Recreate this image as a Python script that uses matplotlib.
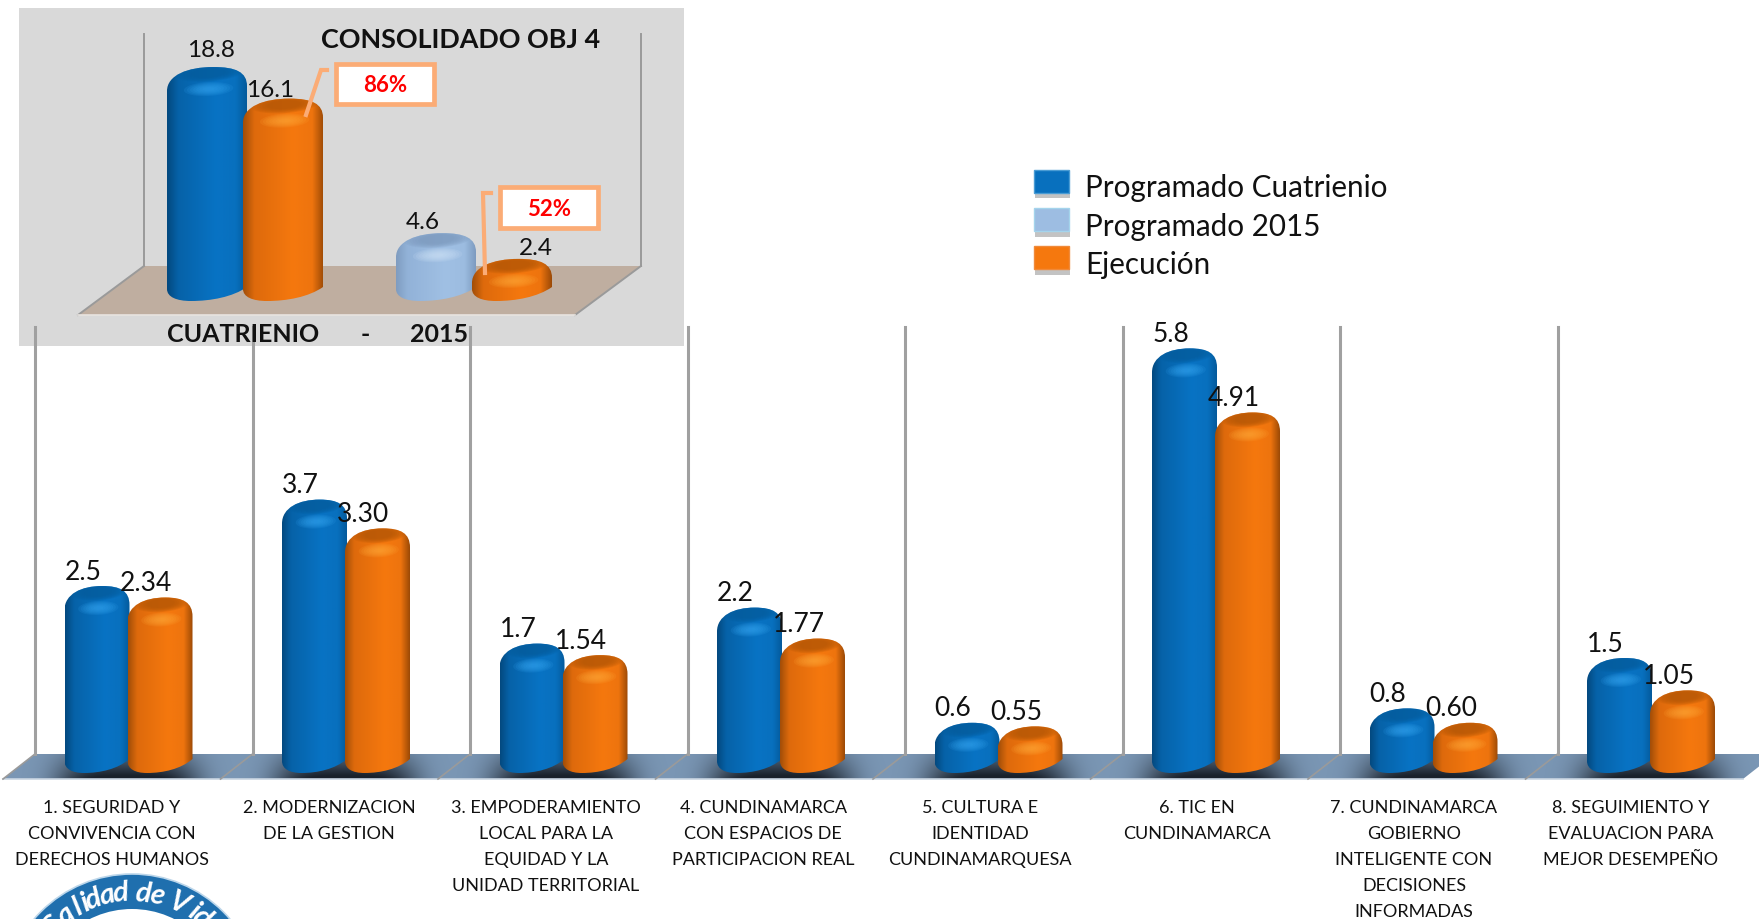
import numpy as np
import matplotlib
matplotlib.use("Agg")
import matplotlib.pyplot as plt
import matplotlib.patheffects as pe
from matplotlib.colors import LinearSegmentedColormap
from matplotlib.legend_handler import HandlerPatch
from matplotlib.patches import Circle, Patch, PathPatch, Polygon, Rectangle
from matplotlib.path import Path

plt.rcParams['font.family'] = ['Lato', 'DejaVu Sans']

# datos
objetivos = ["1. SEGURIDAD Y\nCONVIVENCIA CON\nDERECHOS HUMANOS",
             "2. MODERNIZACION\nDE LA GESTION",
             "3. EMPODERAMIENTO\nLOCAL PARA LA\nEQUIDAD Y LA\nUNIDAD TERRITORIAL",
             "4. CUNDINAMARCA\nCON ESPACIOS DE\nPARTICIPACION REAL",
             "5. CULTURA E\nIDENTIDAD\nCUNDINAMARQUESA",
             "6. TIC EN\nCUNDINAMARCA",
             "7. CUNDINAMARCA\nGOBIERNO\nINTELIGENTE CON\nDECISIONES\nINFORMADAS",
             "8. SEGUIMIENTO Y\nEVALUACION PARA\nMEJOR DESEMPEÑO"]
programado = [2.5, 3.7, 1.7, 2.2, 0.6, 5.8, 0.8, 1.5]
ejecucion = [2.34, 3.30, 1.54, 1.77, 0.55, 4.91, 0.60, 1.05]

consolidado_prog = [18.8, 4.6]
consolidado_ejec = [16.1, 2.4]
consolidado_pct = ["86%", "52%"]

# colores
AZUL = ["#03497f", "#0662a8", "#0873c4", "#0870be", "#045a9c"]
AZUL_TAPA, AZUL_LUZ = "#045c9c", "#35a4f0"
CLARO = ["#7f9cc0", "#92b2d8", "#a0c0e4", "#9cbce0", "#7d9bc0"]
CLARO_TAPA, CLARO_LUZ = "#7c99bd", "#d0e4f8"
NARANJA = ["#a24e08", "#de6a0c", "#f5780e", "#ee740e", "#9c4a06"]
NARANJA_TAPA, NARANJA_LUZ = "#b25606", "#ffa838"
BORDE = "#fbac76"


class Panel:
    # pasa pixeles de la imagen a datos de cada eje
    def __init__(self, ax, x0, y0, sx, sy):
        self.ax, self.x0, self.y0, self.sx, self.sy = ax, x0, y0, sx, sy

    def d(self, px, py):
        return (px - self.x0) / self.sx, (self.y0 - py) / self.sy


def elipse(panel, cx, cy, w, h, ang, **kw):
    t = np.linspace(0, 2 * np.pi, 40)
    a = np.radians(ang)
    ex = w / 2 * np.cos(t)
    ey = h / 2 * np.sin(t)
    px = cx + ex * np.cos(a) - ey * np.sin(a)
    py = cy + ex * np.sin(a) + ey * np.cos(a)
    xs, ys = panel.d(px, py)
    return panel.ax.add_patch(Polygon(np.c_[xs, ys], closed=True, lw=0, **kw))


def cilindro(panel, x, valor, ancho, base, colores, tapa, luz, z):
    ax = panel.ax
    W = ancho * panel.sx
    xc = x * panel.sx + panel.x0
    L = xc - W / 2
    T = panel.y0 - valor * panel.sy
    B = panel.y0 + base

    def p(fx, py):
        return panel.d(L + fx * W, py)

    verts = [p(0, T + 24), p(0, T + 8), p(.26, T), p(.58, T),
             p(.86, T), p(1, T + 5), p(1, T + 19),
             p(1, B - 13), p(.82, B - 3), p(.55, B + 1), p(.3, B + 1),
             p(.12, B + 1), p(0, B - 3), p(0, B - 11), p(0, T + 24)]
    codes = [Path.MOVETO] + [Path.CURVE4] * 6 + [Path.LINETO] + [Path.CURVE4] * 6 + [Path.CLOSEPOLY]
    cuerpo = PathPatch(Path(verts, codes), fc="none", lw=0, zorder=z)
    ax.add_patch(cuerpo)

    cmap = LinearSegmentedColormap.from_list("c", list(zip([0, .14, .62, .86, 1], colores)))
    x1, y1 = p(0, T)
    x2, y2 = p(1, B + 2)
    im = ax.imshow(np.linspace(0, 1, 128).reshape(1, -1), cmap=cmap, aspect="auto",
                   extent=(x1, x2, y2, y1), zorder=z, interpolation="bilinear")
    im.set_clip_path(cuerpo)

    # tapa y brillo
    cx = L + .52 * W
    for k in np.linspace(1, .5, 7):
        e = elipse(panel, cx, T + 6, W * .84 * k, 17 * k, -4, fc=tapa, alpha=.2, zorder=z + .1)
        e.set_clip_path(cuerpo)
    for k in np.linspace(1, .25, 7):
        e = elipse(panel, cx, T + 22, W * .62 * k, 14 * k, -3, fc=luz, alpha=.14, zorder=z + .2)
        e.set_clip_path(cuerpo)


fig = plt.figure(figsize=(17.59, 9.20), dpi=100, facecolor="white")

# grafico consolidado
ax2 = fig.add_axes([19 / 1759, 1 - 347 / 920, 665 / 1759, 338 / 920], zorder=1)
ax2.set_facecolor("#d9d9d9")
for s in ax2.spines.values():
    s.set_visible(False)
ax2.set_xticks([])
ax2.set_yticks([])
x0b, y0b, sxb, syb = 245, 288, 229, 11.7
lim2x = ((19 - x0b) / sxb, (684 - x0b) / sxb)
lim2y = ((y0b - 347) / syb, (y0b - 9) / syb)
pb = Panel(ax2, x0b, y0b, sxb, syb)

suelo = [pb.d(144, 267), pb.d(641, 267), pb.d(575, 316), pb.d(78, 316)]
ax2.add_patch(Polygon(suelo, closed=True, fc="#bfaea0", ec="none", zorder=1))
for a, b in [((144, 35), (144, 267)), ((144, 267), (78, 316)),
             ((641, 35), (641, 267)), ((641, 267), (575, 316))]:
    xa, ya = pb.d(*a)
    xc_, yc_ = pb.d(*b)
    ax2.plot([xa, xc_], [ya, yc_], color="#9a9a9a", lw=1.4, zorder=1.5)
xa, ya = pb.d(78, 316)
xc_, yc_ = pb.d(575, 316)
ax2.plot([xa, xc_], [ya, yc_], color="#e8e4e0", lw=1.2, zorder=1.5)

anchob = 80 / sxb
sep = 38 / sxb
estilo_prog = [(AZUL, AZUL_TAPA, AZUL_LUZ), (CLARO, CLARO_TAPA, CLARO_LUZ)]
off_prog = [(4, 18), (-13, 12)]
off_ejec = [(-13, 9), (24, 11)]
for i in range(2):
    col, tapa, luz = estilo_prog[i]
    cilindro(pb, i - sep, consolidado_prog[i], anchob, 13, col, tapa, luz, 3)
    cilindro(pb, i + sep, consolidado_ejec[i], anchob, 13, NARANJA, NARANJA_TAPA, NARANJA_LUZ, 4)
    ax2.annotate(f"{consolidado_prog[i]:.1f}", (i - sep, consolidado_prog[i]), xytext=off_prog[i],
                 textcoords="offset pixels", ha="center", va="center", fontsize=17.6, color="#111111", zorder=6)
    ax2.annotate(f"{consolidado_ejec[i]:.1f}", (i + sep, consolidado_ejec[i]), xytext=off_ejec[i],
                 textcoords="offset pixels", ha="center", va="center", fontsize=17.6, color="#111111", zorder=6)
ax2.set_xlim(*lim2x)
ax2.set_ylim(*lim2y)

# grafico principal
ax = fig.add_axes([0, 0, 1, 1], zorder=2)
ax.set_axis_off()
x0m, y0m, sxm, sym = 127, 767, 217.5, 72
pm = Panel(ax, x0m, y0m, sxm, sym)
limx = ((0 - x0m) / sxm, (1759 - x0m) / sxm)
limy = ((y0m - 920) / sym, y0m / sym)

# sombra del piso
yy, xx = np.mgrid[0:1:40j, 0:1:120j]
sombra = np.zeros((40, 120, 4))
sombra[..., 0] = 0.10
sombra[..., 1] = 0.13
sombra[..., 2] = 0.17
sombra[..., 3] = np.clip(np.exp(-((xx - .5) / .28) ** 4) * (0.35 + 0.75 * yy), 0, 1)

n = len(objetivos)
for i in range(n):
    dx = i * sxm
    pts = [pm.d(3 + dx, 780), pm.d(35 + dx, 755), pm.d(252.5 + dx, 755), pm.d(220.5 + dx, 780)]
    piso = Polygon(pts, closed=True, fc="#7a96b4", ec="none", zorder=1)
    ax.add_patch(piso)
    x1, y1 = pm.d(3 + dx, 755)
    x2, y2 = pm.d(252.5 + dx, 780)
    im = ax.imshow(sombra, aspect="auto", extent=(x1, x2, y2, y1), zorder=1.1, interpolation="bilinear")
    im.set_clip_path(piso)
    xa, ya = pm.d(3 + dx, 780)
    xb, yb = pm.d(220.5 + dx, 780)
    ax.plot([xa, xb], [ya, yb], color="#c9d5e2", lw=1.2, zorder=1.2)
    xa, ya = pm.d(3 + dx, 780)
    xb, yb = pm.d(35 + dx, 755)
    ax.plot([xa, xb], [ya, yb], color="#9a9a9a", lw=1.2, zorder=1.3)
    xa, ya = pm.d(35 + dx, 328)
    xb, yb = pm.d(35 + dx, 755)
    ax.plot([xa, xb], [ya, yb], color="#a0a0a0", lw=2.2, zorder=1.3)

ancho = 65 / sxm
for i in range(n):
    xp = i - 30 / sxm
    xe = i + 33 / sxm
    cilindro(pm, xp, programado[i], ancho, 6, AZUL, AZUL_TAPA, AZUL_LUZ, 3)
    cilindro(pm, xe, ejecucion[i], ancho, 6, NARANJA, NARANJA_TAPA, NARANJA_LUZ, 4)
    ax.annotate(f"{programado[i]:.1f}", (xp, programado[i]), xytext=(-14, 15),
                textcoords="offset pixels", ha="center", va="center", fontsize=19, color="#111111", zorder=6)
    ax.annotate(f"{ejecucion[i]:.2f}", (xe, ejecucion[i]), xytext=(-14, 15),
                textcoords="offset pixels", ha="center", va="center", fontsize=19, color="#111111", zorder=6)
    xt, yt = pm.d(112 + i * 217, 800)
    ax.text(xt, yt, objetivos[i], ha="center", va="top", fontsize=13, color="#111111",
            linespacing=1.76, zorder=6)

sombra_ley = [pe.withSimplePatchShadow(offset=(1, -4), alpha=.35, shadow_rgbFace="#555555")]
handles = [Patch(fc="#0870be", ec="#4a9cd4", label="Programado Cuatrienio", path_effects=sombra_ley),
           Patch(fc="#9dbde2", ec="#a4d4ec", label="Programado 2015", path_effects=sombra_ley),
           Patch(fc="#f5780e", ec="#f08a3a", label="Ejecución", path_effects=sombra_ley)]
ley = ax.legend(handles=handles, loc="upper left", bbox_to_anchor=(1034 / 1759, 1 - 171 / 920),
                frameon=False, fontsize=21.3, handlelength=1.18, handleheight=1.35,
                handletextpad=.55, labelspacing=.17, borderpad=0, borderaxespad=0,
                handler_map={Patch: HandlerPatch(ypad=.35)})
for t in ley.get_texts():
    t.set_color("#111111")
ax.set_xlim(*limx)
ax.set_ylim(*limy)

# capa de adornos en pixeles: recuadros, titulos, logo
top = fig.add_axes([0, 0, 1, 1], zorder=3)
top.set_axis_off()
top.set_xlim(0, 1759)
top.set_ylim(920, 0)

top.text(461, 40, "CONSOLIDADO OBJ 4", ha="center", va="center", fontsize=19.4, fontweight="bold", color="#111111")
top.text(243, 335, "CUATRIENIO", ha="center", va="center", fontsize=18, fontweight="bold", color="#111111")
top.text(365, 335, "-", ha="center", va="center", fontsize=18, fontweight="bold", color="#111111")
top.text(439, 335, "2015", ha="center", va="center", fontsize=18, fontweight="bold", color="#111111")

cajas = [(336, 65, 98, 40), (500, 188, 98, 41)]
lideres = [[(306, 116), (321, 71), (327, 71)], [(485, 274), (483, 194), (491, 194)]]
for i in range(2):
    x, y, w, h = cajas[i]
    top.add_patch(Rectangle((x, y), w, h, fc="white", ec=BORDE, lw=3.4))
    top.plot(*zip(*lideres[i]), color=BORDE, lw=3, solid_joinstyle="miter")
    top.text(x + w / 2, y + h / 2 + .5, consolidado_pct[i], ha="center", va="center",
             fontsize=16, fontweight="bold", color="#fe0000")

# logo
top.add_patch(Circle((132, 1004), 129, fc="#1f6fae", ec="#bcd6ea", lw=1.2))
top.add_patch(Circle((132, 1004), 94, fc="white", ec="none"))
letras = "Calidad de Vida"
pasos = [1.3, 1, .6, .6, 1, 1, 1, .6, 1, 1, .6, 1.2, .7, 1, 1]
ang = -46.0
for c, s in zip(letras, pasos):
    a = np.radians(ang)
    top.text(132 + 111 * np.sin(a), 1004 - 111 * np.cos(a), c, rotation=-ang, rotation_mode="anchor",
             ha="center", va="center", fontsize=21, fontstyle="italic", fontweight="bold", color="white")
    ang += 7.3 * s

fig.savefig("out.png", dpi=100)
